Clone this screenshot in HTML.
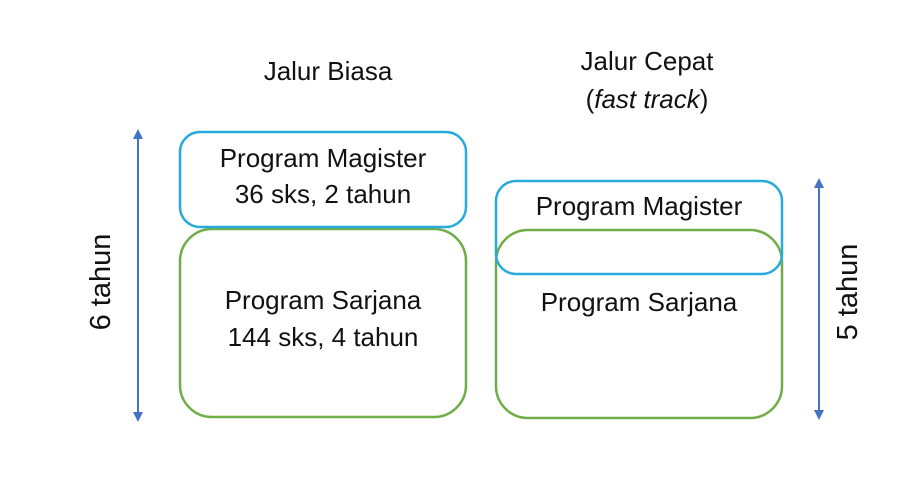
<!DOCTYPE html>
<html><head><style>body{margin:0;background:#fff}</style></head><body>
<svg width="914" height="492" xmlns="http://www.w3.org/2000/svg" font-family="Liberation Sans, sans-serif" font-size="26" fill="#111">
<defs><marker id="a" viewBox="0 0 10 10" refX="5" refY="5" markerWidth="5" markerHeight="5" orient="auto-start-reverse"><path d="M0,0L10,5L0,10z" fill="#4472c4"/></marker></defs>
<rect x="180" y="229" width="286" height="188" rx="32" fill="none" stroke="#70ad47" stroke-width="2.5"/>
<rect x="180" y="132" width="286" height="95" rx="20" fill="none" stroke="#29aadc" stroke-width="2.5"/>
<rect x="496" y="230" width="286" height="188" rx="32" fill="none" stroke="#70ad47" stroke-width="2.5"/>
<rect x="496" y="181" width="286" height="93" rx="20" fill="none" stroke="#29aadc" stroke-width="2.5"/>
<line x1="138" y1="134" x2="138" y2="417" stroke="#4472c4" stroke-width="2" marker-start="url(#a)" marker-end="url(#a)"/>
<line x1="819" y1="183" x2="819" y2="415" stroke="#4472c4" stroke-width="2" marker-start="url(#a)" marker-end="url(#a)"/>
<g text-anchor="middle">
<text x="328" y="80">Jalur Biasa</text>
<text x="647" y="70">Jalur Cepat</text>
<text x="647" y="108">(<tspan font-style="italic">fast track</tspan>)</text>
<text x="323" y="167">Program Magister</text>
<text x="323" y="203">36 sks, 2 tahun</text>
<text x="323" y="309">Program Sarjana</text>
<text x="323" y="346">144 sks, 4 tahun</text>
<text x="639" y="215">Program Magister</text>
<text x="639" y="311">Program Sarjana</text>
<text font-size="29" transform="translate(110,282) rotate(-90)">6 tahun</text>
<text font-size="29" transform="translate(857,292) rotate(-90)">5 tahun</text>
</g>
</svg>
</body></html>
